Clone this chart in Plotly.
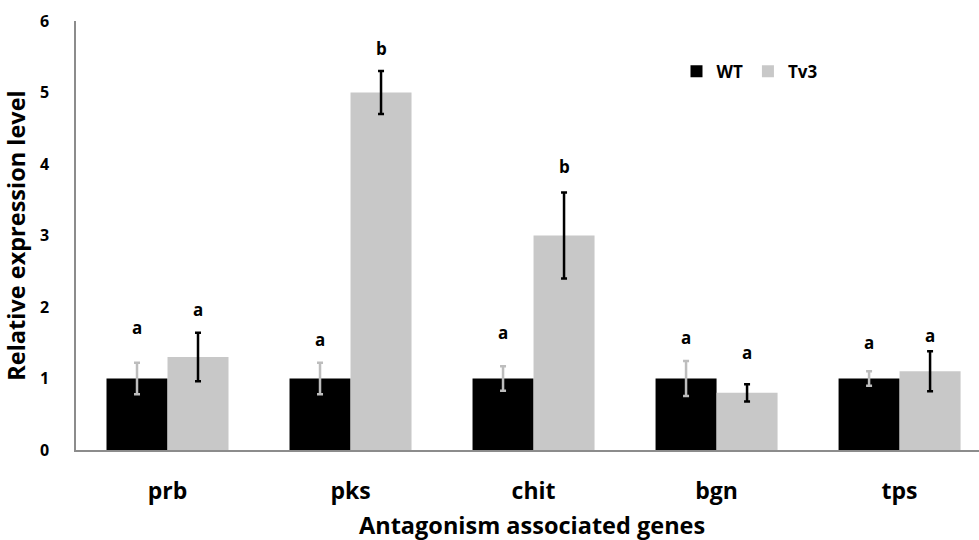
import plotly.graph_objects as go

genes = ["prb", "pks", "chit", "bgn", "tps"]
wt_values = [1.0, 1.0, 1.0, 1.0, 1.0]
wt_errors = [0.22, 0.22, 0.17, 0.245, 0.10]
tv3_values = [1.30, 5.0, 3.0, 0.80, 1.10]
tv3_errors = [0.34, 0.30, 0.60, 0.12, 0.28]
wt_letters = ["a", "a", "a", "a", "a"]
tv3_letters = ["a", "b", "b", "a", "a"]
wt_letter_heights = [1.71, 1.54, 1.65, 1.57, 1.51]
tv3_letter_heights = [1.96, 5.62, 3.96, 1.37, 1.60]

FONT = "Open Sans, Arial, sans-serif"

fig = go.Figure()
fig.add_trace(go.Bar(
    x=genes, y=wt_values, name="WT",
    marker=dict(color="#000000", line=dict(width=0)),
    error_y=dict(type="data", array=wt_errors, color="#bdbdbd", thickness=2.5, width=3),
))
fig.add_trace(go.Bar(
    x=genes, y=tv3_values, name="Tv3",
    marker=dict(color="#c8c8c8", line=dict(width=0)),
    error_y=dict(type="data", array=tv3_errors, color="#000000", thickness=2.5, width=3),
))

for i, g in enumerate(genes):
    fig.add_annotation(x=i - 1/6, y=wt_letter_heights[i], text="<b>%s</b>" % wt_letters[i],
                       showarrow=False, font=dict(size=17, color="#000", family=FONT))
    fig.add_annotation(x=i + 1/6, y=tv3_letter_heights[i], text="<b>%s</b>" % tv3_letters[i],
                       showarrow=False, font=dict(size=17, color="#000", family=FONT))

fig.add_annotation(xref="paper", yref="paper", x=0.505, y=-0.175, yanchor="middle", xanchor="center",
                   text="<b>Antagonism associated genes</b>", showarrow=False,
                   font=dict(size=23.5, family=FONT, color="#000"))

fig.update_layout(
    width=979, height=540,
    margin=dict(l=76, r=0, t=21, b=90, autoexpand=False),
    plot_bgcolor="white", paper_bgcolor="white",
    barmode="group", bargap=1/3, bargroupgap=0,
    font=dict(family=FONT, color="#000"),
    showlegend=True,
    legend=dict(orientation="h", x=0.665, y=0.882, xanchor="left", yanchor="middle",
                font=dict(size=17, family=FONT, color="#000", weight="bold"), itemwidth=30,
                bgcolor="rgba(0,0,0,0)", tracegroupgap=0),
    xaxis=dict(
        type="category", range=[-0.5, 4.434], automargin=False,
        showline=True, linecolor="#8c8c8c", linewidth=1.5,
        ticks="", showgrid=False, zeroline=False,
        tickfont=dict(size=23, family=FONT, color="#000", weight="bold"),
        ticklabelstandoff=20,
    ),
    yaxis=dict(
        range=[0, 6], dtick=1, showline=True, linecolor="#8c8c8c", linewidth=1.5,
        ticks="", showgrid=False, zeroline=False, automargin=False,
        tickfont=dict(size=16, family=FONT, color="#000", weight="bold"),
        ticklabelstandoff=22,
        title=dict(text="<b>Relative expression level</b>", font=dict(size=23.5, family=FONT, color="#000"),
                   standoff=11),
    ),
)

fig.write_html("out.html", config={"displayModeBar": False},
               post_script="document.body.style.margin='0';document.body.style.overflow='hidden';")
